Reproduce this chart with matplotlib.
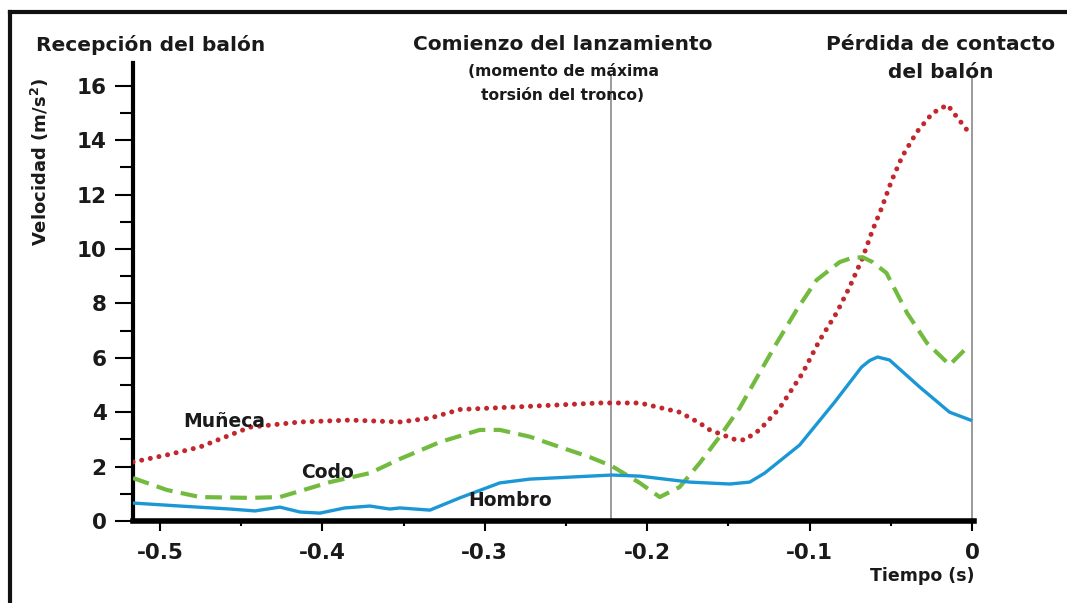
import matplotlib
matplotlib.use("Agg")
import matplotlib.pyplot as plt
from matplotlib.lines import Line2D
from matplotlib.ticker import MultipleLocator

plt.rcParams['font.family'] = ['DejaVu Sans']

# Time before ball release (s) and segment velocities (m/s)
t_muneca = [-0.5166, -0.4957, -0.4754, -0.4446, -0.4138, -0.3831, -0.3523, -0.3338,
            -0.3154, -0.2785, -0.2292, -0.2046, -0.1800, -0.1677, -0.1615, -0.1462,
            -0.1400, -0.1308, -0.1185, -0.1043, -0.0938, -0.0834, -0.0754, -0.0674,
            -0.0612, -0.0557, -0.0496, -0.0430, -0.0340, -0.0243, -0.0151, -0.0034]
v_muneca = [2.17, 2.43, 2.72, 3.45, 3.64, 3.71, 3.64, 3.78,
            4.10, 4.20, 4.34, 4.34, 4.00, 3.60, 3.35, 3.00,
            2.98, 3.35, 4.15, 5.44, 6.65, 7.65, 8.60, 9.67,
            10.7, 11.5, 12.5, 13.4, 14.3, 15.0, 15.3, 14.4]

t_codo = [-0.5166, -0.4957, -0.4754, -0.4446, -0.4262, -0.3954, -0.3708, -0.3523,
          -0.3277, -0.3031, -0.2908, -0.2723, -0.2538, -0.2354, -0.2218, -0.2046,
          -0.1923, -0.1800, -0.1677, -0.1554, -0.1431, -0.1326, -0.1203, -0.1080,
          -0.0957, -0.0815, -0.0742, -0.0674, -0.0612, -0.0527, -0.0400, -0.0277,
          -0.0138, -0.0015]
v_codo = [1.58, 1.14, 0.88, 0.85, 0.88, 1.43, 1.76, 2.28,
          2.90, 3.35, 3.35, 3.10, 2.72, 2.35, 2.02, 1.40,
          0.88, 1.25, 2.13, 3.10, 4.15, 5.26, 6.54, 7.76,
          8.86, 9.52, 9.67, 9.70, 9.52, 9.12, 7.65, 6.54,
          5.74, 6.47]

t_hombro = [-0.5166, -0.4877, -0.4569, -0.4415, -0.4262, -0.4138, -0.4015, -0.3862,
            -0.3708, -0.3585, -0.3523, -0.3338, -0.3154, -0.2908, -0.2723, -0.2218,
            -0.2046, -0.1738, -0.1492, -0.1369, -0.1277, -0.1062, -0.0846, -0.0680,
            -0.0630, -0.0582, -0.0508, -0.0323, -0.0138, -0.0009]
v_hombro = [0.66, 0.55, 0.44, 0.37, 0.51, 0.33, 0.29, 0.48,
            0.55, 0.44, 0.48, 0.40, 0.85, 1.40, 1.54, 1.69,
            1.65, 1.43, 1.36, 1.43, 1.76, 2.79, 4.37, 5.66,
            5.90, 6.03, 5.92, 4.93, 4.00, 3.71]

x_ticks = [-0.5, -0.4, -0.3, -0.2, -0.1, 0]
x_ticklabels = ['-0.5', '-0.4', '-0.3', '-0.2', '-0.1', '0']
y_ticks = [0, 2, 4, 6, 8, 10, 12, 14, 16]

t_inicio = -0.222   # start of the throw (maximum trunk torsion)
t_suelta = 0.0      # ball release

ink = '#1a1a1a'

fig = plt.figure(figsize=(10.67, 6.03), dpi=100)
ax = fig.add_axes([0.1247, 0.136, 0.7881, 0.7595])

red = '#c1272d'
green = '#72bb3e'
blue = '#1b97d5'

ax.plot(t_muneca, v_muneca, color=red, lw=3.6, linestyle=(0, (0.01, 1.75)),
        dash_capstyle='round', solid_capstyle='round', zorder=3)
ax.plot(t_codo, v_codo, color=green, lw=3.0, linestyle=(0, (4.0, 2.0)),
        dash_capstyle='butt', zorder=3)
ax.plot(t_hombro, v_hombro, color=blue, lw=2.4, zorder=3, solid_joinstyle='round')

ax.vlines(t_inicio, 0, 16.4, color='#8a8a8a', lw=1.2, clip_on=False, zorder=2)
ax.vlines(t_suelta, 0, 16.3, color='#8a8a8a', lw=1.2, clip_on=False, zorder=2)

ax.set_xlim(-0.5166, 0.0012)
ax.set_ylim(0, 16.84)

for s in ['top', 'right']:
    ax.spines[s].set_visible(False)
ax.spines['left'].set_linewidth(3.0)
ax.spines['bottom'].set_linewidth(4.0)
ax.spines['left'].set_capstyle('projecting')

ax.set_xticks(x_ticks)
ax.set_xticklabels(x_ticklabels)
ax.set_yticks(y_ticks)
ax.xaxis.set_minor_locator(MultipleLocator(0.05))
ax.yaxis.set_minor_locator(MultipleLocator(1))
ax.tick_params(axis='y', which='major', length=13, width=1.5, pad=6, labelsize=15.5)
ax.tick_params(axis='y', which='minor', length=9.5, width=1.5)
ax.tick_params(axis='x', which='major', length=7, width=1.5, pad=9, labelsize=15.5)
ax.tick_params(axis='x', which='minor', length=3.5, width=1.5)
for lab in ax.get_xticklabels() + ax.get_yticklabels():
    lab.set_fontweight('bold')
    lab.set_color(ink)

ax.set_xlabel('Tiempo (s)', fontsize=12.5, fontweight='bold', color=ink)
ax.xaxis.set_label_coords(0.939, -0.10)
ax.set_ylabel('Velocidad (m/s$^\\mathbf{2}$)', fontsize=13, fontweight='bold', color=ink)
ax.yaxis.set_label_coords(-0.098, 0.784)

ax.text(-0.4606, 3.64, 'Muñeca', fontsize=13.5, fontweight='bold', color=ink,
        ha='center', va='center', zorder=4)
ax.text(-0.3966, 1.80, 'Codo', fontsize=13.5, fontweight='bold', color=ink,
        ha='center', va='center', zorder=4)
ax.text(-0.2846, 0.77, 'Hombro', fontsize=13.5, fontweight='bold', color=ink,
        ha='center', va='center', zorder=4)

# Event annotations above the plot
fig.text(151 / 1067, 1 - 45 / 603, 'Recepción del balón', fontsize=14.5, fontweight='bold',
         color=ink, ha='center', va='center')
fig.text(563 / 1067, 1 - 45 / 603, 'Comienzo del lanzamiento', fontsize=14.5, fontweight='bold',
         color=ink, ha='center', va='center')
fig.text(563 / 1067, 1 - 71 / 603, '(momento de máxima', fontsize=11.2, fontweight='bold',
         color=ink, ha='center', va='center')
fig.text(563 / 1067, 1 - 96 / 603, 'torsión del tronco)', fontsize=11.2, fontweight='bold',
         color=ink, ha='center', va='center')
fig.text(941 / 1067, 1 - 45 / 603, 'Pérdida de contacto', fontsize=14.5, fontweight='bold',
         color=ink, ha='center', va='center')
fig.text(941 / 1067, 1 - 72 / 603, 'del balón', fontsize=14.5, fontweight='bold',
         color=ink, ha='center', va='center')

# Frame lines along the top and left edges
fig.add_artist(Line2D([10 / 1067, 1.0], [1 - 12 / 603, 1 - 12 / 603], color='#111111',
                      lw=3.0, transform=fig.transFigure, solid_capstyle='projecting'))
fig.add_artist(Line2D([10 / 1067, 10 / 1067], [1 - 12 / 603, 0.0], color='#111111',
                      lw=3.0, transform=fig.transFigure, solid_capstyle='projecting'))

fig.savefig('out.png', dpi=100)
